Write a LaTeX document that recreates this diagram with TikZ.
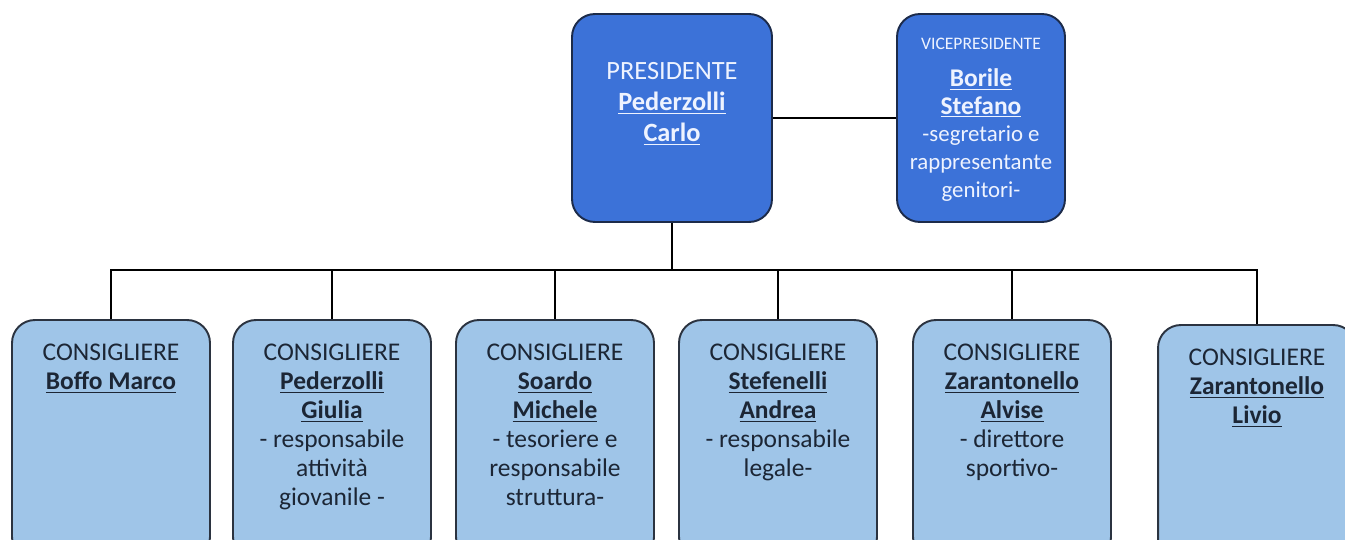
\documentclass[tikz,border=0pt]{standalone}
\usepackage{fontspec}
\setmainfont{Carlito}
\usepackage{xcolor}
\usepackage{tikz}
\usetikzlibrary{
    positioning,     % For relative node placement
    calc             % For coordinate calculations
}
\definecolor{topfill}{HTML}{3C72D8}
\definecolor{topborder}{HTML}{1C2B4A}
\definecolor{topfont}{HTML}{EEF3FF}
\definecolor{memberfill}{HTML}{9FC5E8}
\definecolor{memberborder}{HTML}{2B3340}
\definecolor{memberfont}{HTML}{1C2635}
\newcommand{\who}[1]{\underline{\textbf{#1}}}

\begin{document}
\begin{tikzpicture}[x=0.02cm, y=-0.02cm]

    % --- Style Definitions ---
    \tikzset{
        % the two boxes at the top
        topbox/.style={
            rectangle,
            rounded corners=13pt,
            draw=topborder,
            line width=1.1pt,
            fill=topfill,
            minimum height=4.16cm
        },
        % the six boxes of the board members
        memberbox/.style={
            rectangle,
            rounded corners=13pt,
            draw=memberborder,
            line width=1.1pt,
            fill=memberfill,
            minimum width=3.96cm,
            minimum height=4.8cm
        },
        % text inside the boxes
        toptext/.style={
            align=center, inner sep=0pt, anchor=north,
            text=topfont, font=\fontsize{15}{17.6}\selectfont
        },
        membertext/.style={
            align=center, inner sep=0pt, anchor=north,
            text=memberfont, font=\fontsize{14.5}{16.5}\selectfont
        },
        % the connecting lines
        link/.style={
            draw=black, line width=0.8pt
        }
    }

    \useasboundingbox (0,0) rectangle (1345,540);
    \clip (0,0) rectangle (1345,540);

    % --- Node Placement ---
    % President and vice president
    \node[topbox, minimum width=4cm] (pres) at (672,118) {};
    \node[topbox, minimum width=3.36cm] (vice) at (981,118) {};

    % The board members, left to right
    \node[memberbox] (b1) at (111,440) {};
    \node[memberbox] (b2) at (332,440) {};
    \node[memberbox] (b3) at (555,440) {};
    \node[memberbox] (b4) at (778,440) {};
    \node[memberbox] (b5) at (1012,440) {};
    \node[memberbox] (b6) at (1257,445) {};

    % --- Texts ---
    \node[toptext, below=0.98cm of pres.north] (tpres)
        {PRESIDENTE\\ \who{Pederzolli}\\ \who{Carlo}};
    \node[toptext, font=\fontsize{13}{15.8}\selectfont,
          below=0.5cm of vice.north] (tvice)
        {{\fontsize{10}{15.8}\selectfont VICEPRESIDENTE}\\[5pt]
         {\fontsize{14.5}{15.8}\selectfont \who{Borile}}\\
         {\fontsize{14.5}{15.8}\selectfont \who{Stefano}}\\
         -segretario e\\ rappresentante\\ genitori-};

    \node[membertext, below=0.5cm of b1.north] (t1)
        {CONSIGLIERE\\ \who{Boffo Marco}};
    \node[membertext, below=0.5cm of b2.north] (t2)
        {CONSIGLIERE\\ \who{Pederzolli}\\ \who{Giulia}\\ - responsabile\\ attività\\ giovanile -};
    \node[membertext, below=0.5cm of b3.north] (t3)
        {CONSIGLIERE\\ \who{Soardo}\\ \who{Michele}\\ - tesoriere e\\ responsabile\\ struttura-};
    \node[membertext, below=0.5cm of b4.north] (t4)
        {CONSIGLIERE\\ \who{Stefenelli}\\ \who{Andrea}\\ - responsabile\\ legale-};
    \node[membertext, below=0.5cm of b5.north] (t5)
        {CONSIGLIERE\\ \who{Zarantonello}\\ \who{Alvise}\\ - direttore\\ sportivo-};
    \node[membertext, below=0.5cm of b6.north] (t6)
        {CONSIGLIERE\\ \who{Zarantonello}\\ \who{Livio}};

    % --- Drawing Connections ---
    \draw[link] (pres.east) -- (vice.west);
    \draw[link] (pres.south) -- (pres.south |- 0,270) coordinate (bus);
    \foreach \i in {1,...,6}
        \draw[link] (bus) -| (b\i.north);

\end{tikzpicture}
\end{document}
